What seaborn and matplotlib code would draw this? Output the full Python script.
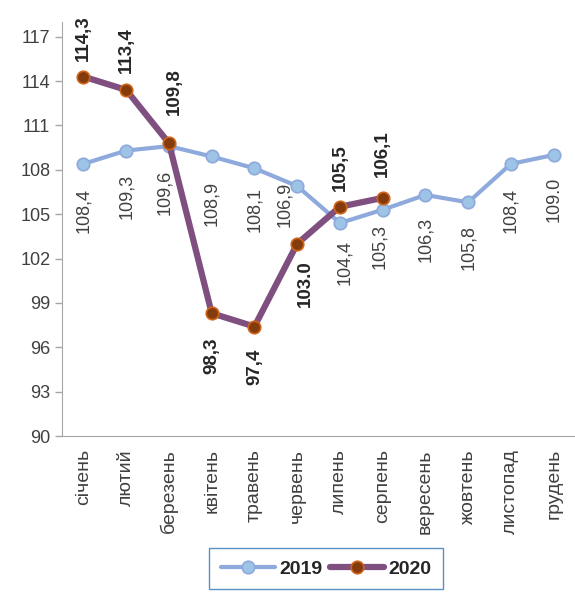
import matplotlib
matplotlib.use("Agg")
import matplotlib.pyplot as plt
import seaborn as sns
import pandas as pd

# Data
months = ["січень", "лютий", "березень", "квітень", "травень", "червень",
          "липень", "серпень", "вересень", "жовтень", "листопад", "грудень"]
values_2019 = [108.4, 109.3, 109.6, 108.9, 108.1, 106.9, 104.4, 105.3, 106.3, 105.8, 108.4, 109.0]
values_2020 = [114.3, 113.4, 109.8, 98.3, 97.4, 103.0, 105.5, 106.1]
labels_2019 = ["108,4", "109,3", "109,6", "108,9", "108,1", "106,9", "104,4", "105,3",
               "106,3", "105,8", "108,4", "109.0"]
labels_2020 = ["114,3", "113,4", "109,8", "98,3", "97,4", "103.0", "105,5", "106,1"]
y_ticks = [90, 93, 96, 99, 102, 105, 108, 111, 114, 117]

# label placement (pixel offsets from the point)
offs_2019 = [(0, -24), (0, -23), (-4, -24), (0, -24), (0, -19), (-13, 4),
             (5, -17), (-3, -14), (0, -22), (0, -23), (0, -24), (0, -22)]
offs_2020 = [(0, 16), (0, 17), (5, 28), (0, -24), (0, -22), (8, -17), (0, 16), (0, 21)]

sns.set_style("white")
plt.rcParams["font.family"] = ["Liberation Sans", "DejaVu Sans"]

text_color = "#404040"
c2019 = "#8EA9DB"
c2020 = "#7F4F80"

df19 = pd.DataFrame({"x": range(len(values_2019)), "y": values_2019})
df20 = pd.DataFrame({"x": range(len(values_2020)), "y": values_2020})

fig = plt.figure(figsize=(5.75, 5.92), dpi=100)
ax = fig.add_axes([0.108, 0.2635, 0.892, 0.6995])

sns.lineplot(data=df19, x="x", y="y", ax=ax, color=c2019, linewidth=3,
             marker="o", markersize=9, markerfacecolor="#9DC3E6",
             markeredgecolor=c2019, markeredgewidth=1.2, label="2019")
sns.lineplot(data=df20, x="x", y="y", ax=ax, color=c2020, linewidth=4.5,
             marker="o", markersize=9, markerfacecolor="#843C0C",
             markeredgecolor="#D0651A", markeredgewidth=1.2, label="2020")

# data labels
for i, (v, t) in enumerate(zip(values_2019, labels_2019)):
    dx, dy = offs_2019[i]
    ax.annotate(t, (i, v), xytext=(dx, dy), textcoords="offset pixels",
                rotation=90, ha="center", va="top", fontsize=13, color=text_color)
for i, (v, t) in enumerate(zip(values_2020, labels_2020)):
    dx, dy = offs_2020[i]
    ax.annotate(t, (i, v), xytext=(dx, dy), textcoords="offset pixels",
                rotation=90, ha="center", va="bottom" if dy > 0 else "top",
                fontsize=13.5, fontweight="bold", color="#262626")

ax.set_xlim(-0.5, 11.5)
ax.set_ylim(90, 118)
ax.set_yticks(y_ticks)
ax.set_xticks(range(len(months)))
ax.set_xticklabels(months, rotation=90, fontsize=14, color=text_color)
ax.tick_params(axis="y", labelsize=13, labelcolor=text_color, left=True,
               length=5, color="#A6A6A6", width=1)
ax.tick_params(axis="x", bottom=False, pad=6)
ax.set_xlabel("")
ax.set_ylabel("")

for s in ["top", "right"]:
    ax.spines[s].set_visible(False)
ax.spines["left"].set_color("#A6A6A6")
ax.spines["bottom"].set_color("#A6A6A6")

ax.get_legend().remove()
handles, lbls = ax.get_legend_handles_labels()
leg = fig.legend(handles, lbls, loc="upper center", bbox_to_anchor=(0.567, 0.09),
                 ncol=2, frameon=True, fancybox=False, handlelength=2.8,
                 columnspacing=0.4, handletextpad=0.2, borderpad=0.6,
                 prop={"size": 14, "weight": "bold"})
leg.get_frame().set_edgecolor("#2E75B6")
leg.get_frame().set_linewidth(1)
for t in leg.get_texts():
    t.set_color("#262626")

fig.savefig("out.png", dpi=100)
plt.close()
